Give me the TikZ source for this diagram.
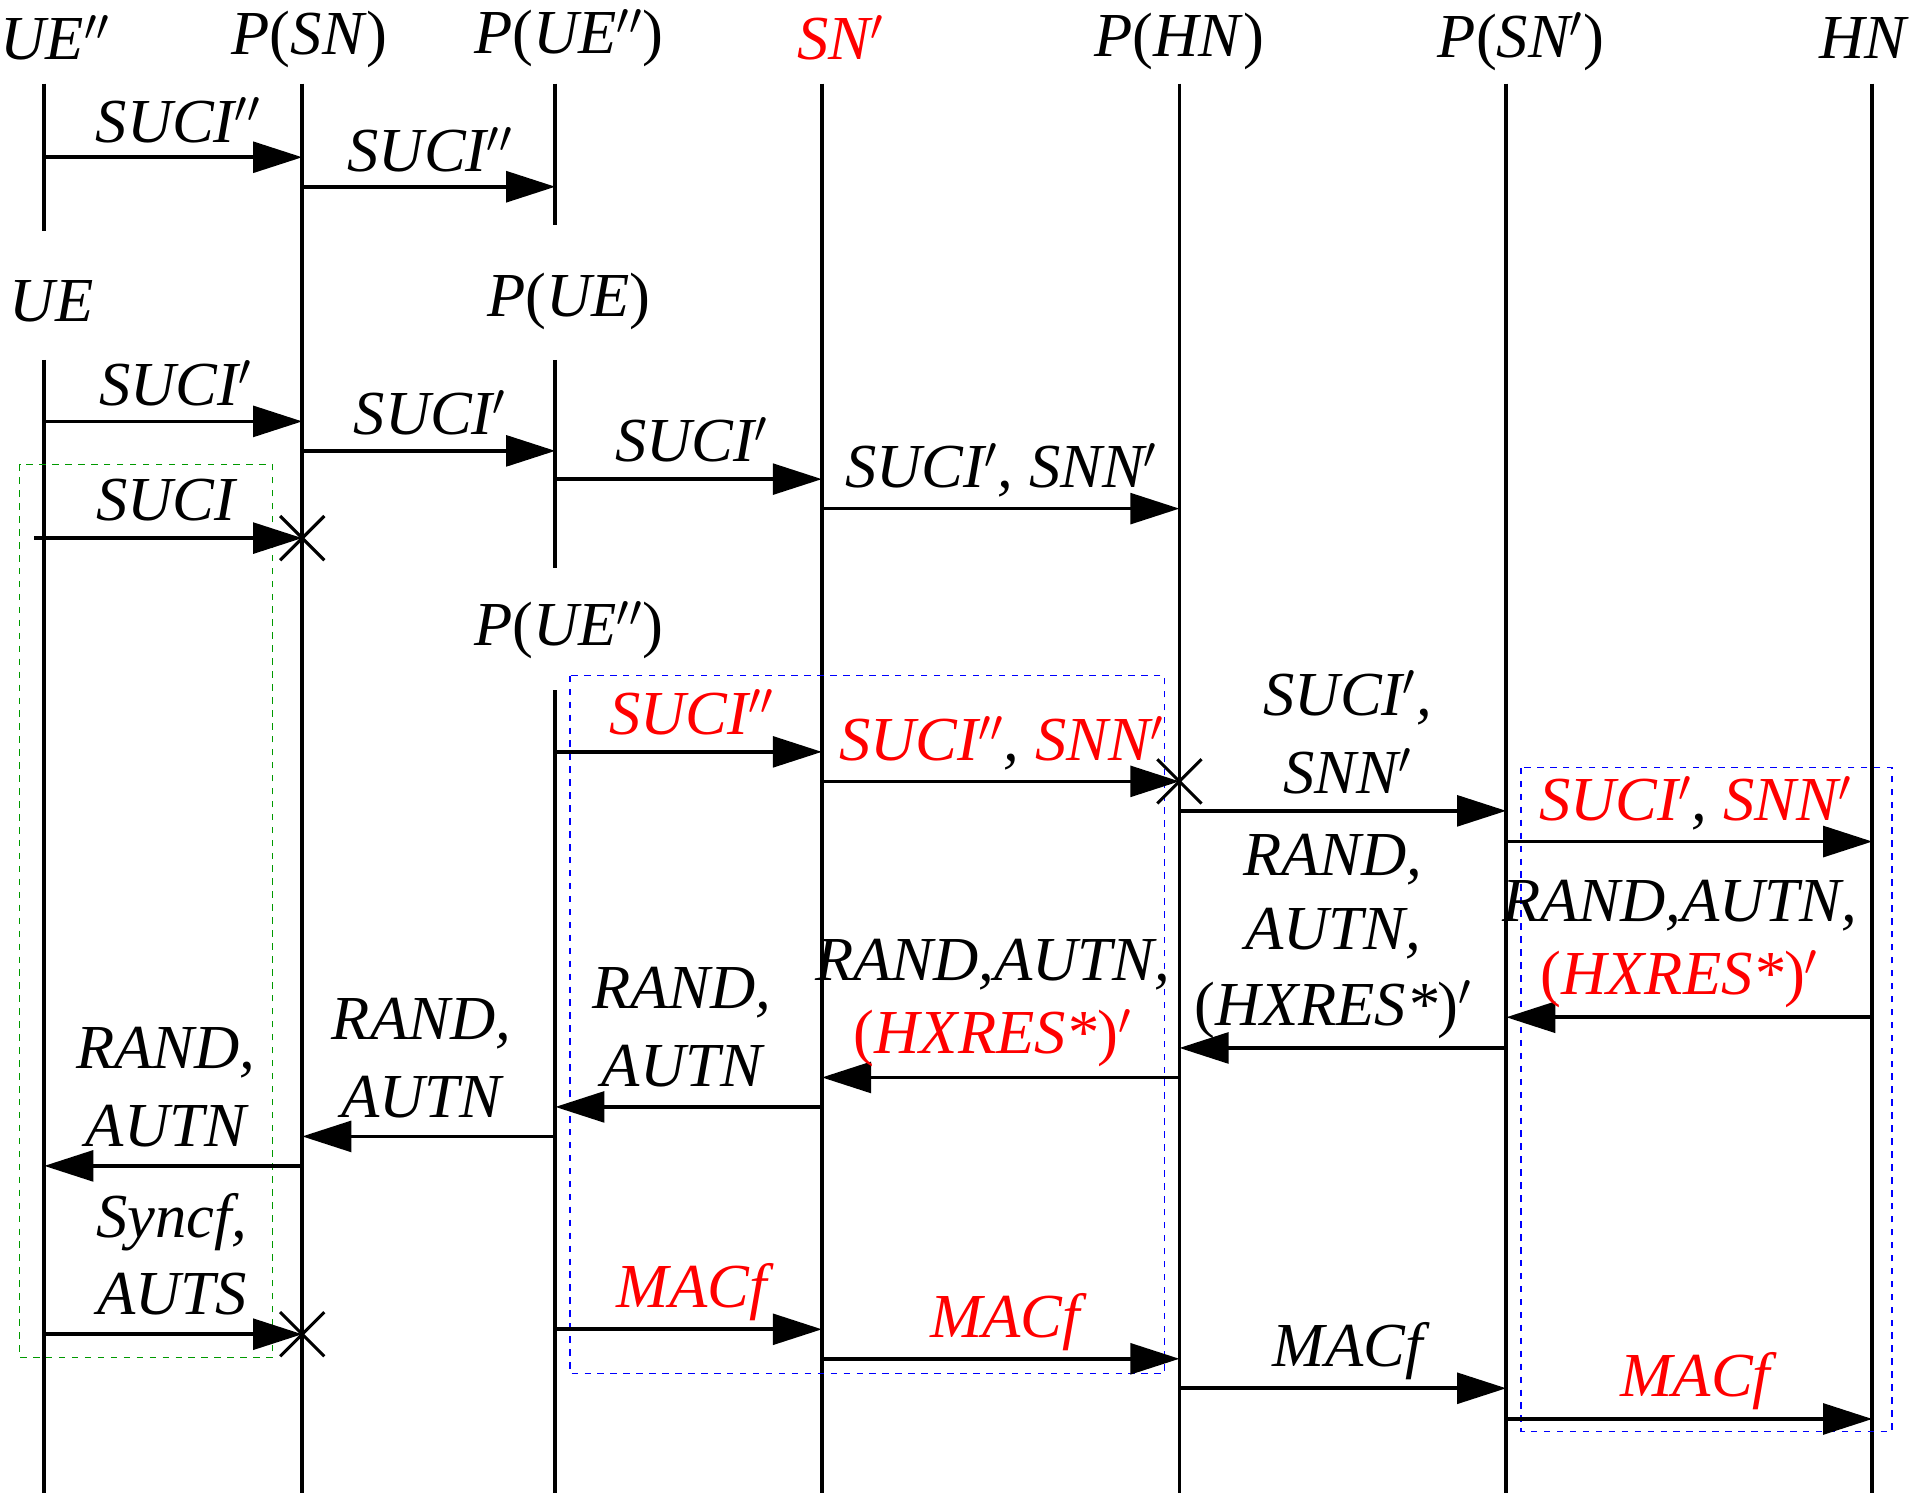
\documentclass[tikz,border=0pt]{standalone}
\usepackage{fontspec}
\setmainfont{Liberation Serif}
\usetikzlibrary{arrows.meta}
\begin{document}
\begin{tikzpicture}[x=0.02cm,y=-0.02cm,
  life/.style={line width=0.06cm},
  msg/.style={line width=0.06cm,-{Triangle[length=0.8cm,width=0.5cm]}},
  lbl/.style={font=\fontsize{29}{33}\selectfont\itshape,inner sep=0pt,align=center},
  cross/.style={line width=0.05cm},
  gbox/.style={green!60!black,dashed,line width=0.02cm},
  bbox/.style={blue,dashed,line width=0.02cm}]
\useasboundingbox (0,0) rectangle (1562,1216);
\newcommand{\msgarrow}[4]{\coordinate (#4a) at (#2,#1); \coordinate (#4b) at (#3,#1); \draw[msg] (#4a) -- (#4b);}
\newcommand{\xmark}[3]{\coordinate (#3) at (#1,#2); \draw[cross] ([shift={(-18,-18)}]#3) -- ([shift={(18,18)}]#3) ([shift={(-18,18)}]#3) -- ([shift={(18,-18)}]#3);}
\newcommand{\lp}{\textup{(}}
\newcommand{\rp}{\textup{)}}
% headers
\node[lbl] (hUEpp) at (45,31) {UE$''$};
\node[lbl] (hPSN) at (252,32) {P\lp SN\rp};
\node[lbl] (hPUEpp) at (463,31) {P\lp UE$''$\rp};
\node[lbl,red] (hSNp) at (684,31) {SN$'$};
\node[lbl] (hPHN) at (960,34) {P\lp HN\rp};
\node[lbl] (hPSNp) at (1238,34) {P\lp SN$'$\rp};
\node[lbl] (hHN) at (1516,31) {HN};
\node[lbl] (hUE) at (42,245) {UE};
\node[lbl] (hPUE) at (463,245) {P\lp UE\rp};
\node[lbl] (hPUEpp2) at (463,513) {P\lp UE$''$\rp};
% lifelines
\draw[life] (36,68) -- (36,188);
\draw[life] (36,293) -- (36,1215);
\draw[life] (246,68) -- (246,1215);
\draw[life] (452,68) -- (452,183);
\draw[life] (452,293) -- (452,462);
\draw[life] (452,562) -- (452,1215);
\draw[life] (669,68) -- (669,1215);
\draw[life] (960,68) -- (960,1215);
\draw[life] (1226,68) -- (1226,1215);
\draw[life] (1524,68) -- (1524,1215);
% boxes
\draw[gbox] (16,378) rectangle (222,1105);
\draw[bbox] (464,550) rectangle (948,1118);
\draw[bbox] (1238,625) rectangle (1540,1165);
% messages
\msgarrow{128}{36}{246}{m1} \node[lbl] at (145,98) {SUCI$''$};
\msgarrow{152}{246}{452}{m2} \node[lbl] at (350,122) {SUCI$''$};
\msgarrow{343}{36}{246}{m3} \node[lbl] at (143,312) {SUCI$'$};
\msgarrow{367}{246}{452}{m4} \node[lbl] at (350,336) {SUCI$'$};
\msgarrow{390}{452}{669}{m5} \node[lbl] at (563,358) {SUCI$'$};
\msgarrow{414}{669}{960}{m6} \node[lbl] at (815,383) {SUCI$'$, SNN$'$};
\msgarrow{438}{28}{246}{m7} \node[lbl] at (135,407) {SUCI}; \xmark{246}{438}{x1}
\msgarrow{612}{452}{669}{m8} \node[lbl,red] at (563,580) {SUCI$''$};
\msgarrow{636}{669}{960}{m9} \node[lbl] at (815,605) {\textcolor{red}{SUCI$''$}, \textcolor{red}{SNN$'$}}; \xmark{960}{636}{x2}
\msgarrow{660}{960}{1226}{m10} \node[lbl] at (1097,568) {SUCI$'$,}; \node[lbl] at (1097,628) {SNN$'$};
\msgarrow{685}{1226}{1524}{m11} \node[lbl] at (1380,654) {\textcolor{red}{SUCI$'$}, \textcolor{red}{SNN$'$}};
\msgarrow{828}{1524}{1226}{m12} \node[lbl] at (1367,737) {RAND,AUTN,}; \node[lbl,red] at (1367,797) {\lp HXRES*\rp$'$};
\msgarrow{853}{1226}{960}{m13} \node[lbl] at (1085,700) {RAND,}; \node[lbl] at (1085,760) {AUTN,}; \node[lbl] at (1085,822) {\lp HXRES*\rp$'$};
\msgarrow{877}{960}{669}{m14} \node[lbl] at (808,785) {RAND,AUTN,}; \node[lbl,red] at (808,845) {\lp HXRES*\rp$'$};
\msgarrow{901}{669}{452}{m15} \node[lbl] at (555,808) {RAND,}; \node[lbl] at (555,868) {AUTN};
\msgarrow{925}{452}{246}{m16} \node[lbl] at (343,833) {RAND,}; \node[lbl] at (343,893) {AUTN};
\msgarrow{949}{246}{36}{m17} \node[lbl] at (135,857) {RAND,}; \node[lbl] at (135,917) {AUTN};
\msgarrow{1086}{36}{246}{m18} \node[lbl] at (140,995) {Syncf,}; \node[lbl] at (140,1053) {AUTS}; \xmark{246}{1086}{x3}
\msgarrow{1082}{452}{669}{m19} \node[lbl,red] at (563,1052) {MACf};
\msgarrow{1106}{669}{960}{m20} \node[lbl,red] at (818,1076) {MACf};
\msgarrow{1130}{960}{1226}{m21} \node[lbl] at (1097,1100) {MACf};
\msgarrow{1155}{1226}{1524}{m22} \node[lbl,red] at (1380,1124) {MACf};
\end{tikzpicture}
\end{document}
